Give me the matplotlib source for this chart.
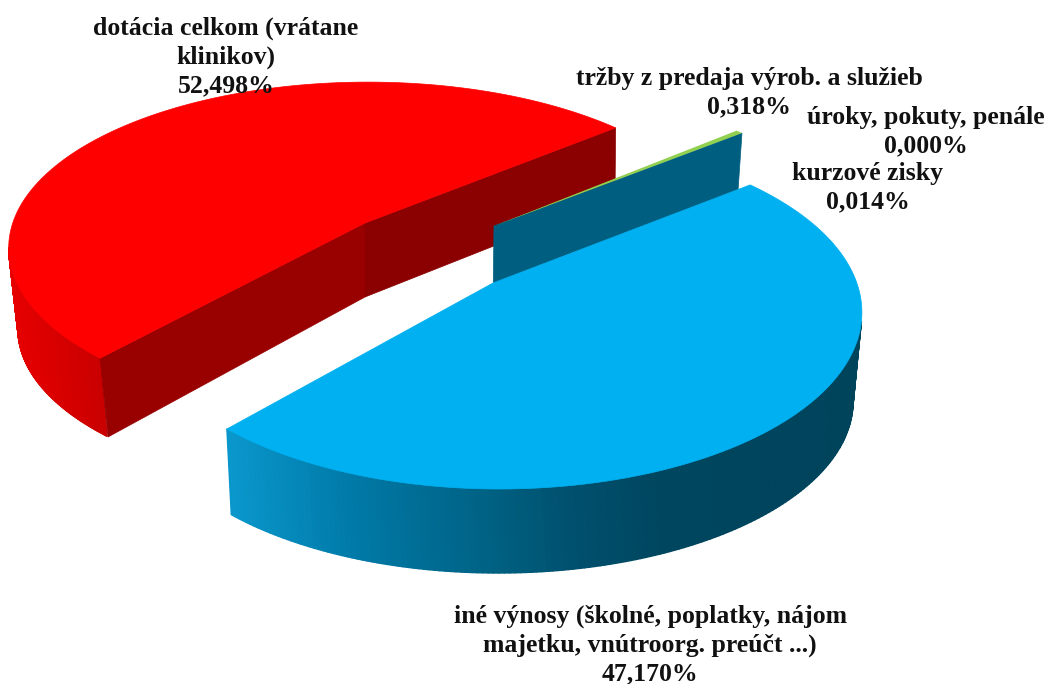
import numpy as np
import matplotlib.pyplot as plt
from matplotlib.collections import PolyCollection
from matplotlib.colors import to_rgb

names = ["dotácia celkom (vrátane\nklinikov)",
         "iné výnosy (školné, poplatky, nájom\nmajetku, vnútroorg. preúčt ...)",
         "tržby z predaja výrob. a služieb",
         "kurzové zisky",
         "úroky, pokuty, penále"]
shares = [52.498, 47.170, 0.318, 0.014, 0.000]
colors = ["#ff0000", "#00b0f0", "#92d050", "#92d050", "#92d050"]
label_pos = [(226, 57), (650, 645), (749, 93), (868, 188), (926, 132)]

RED, BLUE = 0, 1


def arc(c, a, b, t0, t1, n=160):
    t = np.radians(np.linspace(t0, t1, n))
    return np.c_[c[0] + a * np.cos(t), c[1] + b * np.sin(t)]


def sweep(share, stretch=1.0):
    return share * 3.6 * stretch


def side(ax, top, bottom, x_stops, col_stops):
    # shaded rim, one thin quad per step so the colour follows x
    polys = []
    cols = []
    rgb = np.array([to_rgb(c) for c in col_stops])
    for i in range(len(top) - 1):
        polys.append([top[i], top[i + 1], bottom[i + 1], bottom[i]])
        xm = (top[i][0] + bottom[i][0]) / 2
        cols.append([np.interp(xm, x_stops, rgb[:, k]) for k in range(3)])
    ax.fill(*np.vstack([top, bottom[::-1]]).T, color=col_stops[-1], lw=0)
    ax.add_collection(PolyCollection(polys, facecolors=cols, edgecolors=cols, linewidths=1.0))


fig = plt.figure(figsize=(10.48, 6.84), dpi=100)
ax = fig.add_axes([0, 0, 1, 1])
ax.set_xlim(0, 1048)
ax.set_ylim(684, 0)
ax.axis("off")

# red slice
rc, ra, rb = (367.9, 247.8), 359.2, 165.7
rc2, ra2, rb2 = (368, 329), 350, 161
r_start = -46.4
r_end = r_start - sweep(shares[RED], 0.928)
r_top = arc(rc, ra, rb, r_start, r_end)
r_apex = (365, 223)
r_apex2 = (365, 297)
side(ax, arc(rc, ra, rb, -180, r_end), arc(rc2, ra2, rb2, -180, r_end),
     [10, 60, 108], ["#e80000", "#d80000", "#c80000"])
ax.fill([r_top[-1][0], r_apex[0], r_apex2[0], 108], [r_top[-1][1], r_apex[1], r_apex2[1], 437], color="#990000", lw=0.5)
ax.fill([r_top[0][0], r_apex[0], r_apex2[0], 615], [r_top[0][1], r_apex[1], r_apex2[1], 198], color="#8b0000", lw=0.5)
ax.fill(*np.vstack([r_top, r_apex]).T, color=colors[RED], lw=0.5)

# thin slices behind the blue one
sc, sa, sb = (491, 260.5), 362.6, 176.6
s_apex = (494, 226)
s_start = -46.2
for i in range(2, 5):
    s_end = s_start - sweep(shares[i])
    s_arc = arc(sc, sa, sb, s_start, s_end, 5)
    if i == 2:
        ax.fill([s_apex[0], s_arc[0][0], 736.5, 493], [s_apex[1], s_arc[0][1], 213, 306], color="#005f80", lw=0.5)
    if shares[i] > 0.1:
        ax.fill(*np.vstack([s_arc, s_apex]).T, color=colors[i], lw=0)
    s_start = s_end

# blue slice
bc, ba, bb = (499.3, 312.4), 362.6, 176.6
bc2, ba2, bb2 = (498, 401.4), 355, 171.6
b_start = 138.7
b_end = b_start - sweep(shares[BLUE], 1.089)
b_apex = (493, 283)
side(ax, arc(bc, ba, bb, b_start, 3), arc(bc2, ba2, bb2, b_start, 0),
     [232, 350, 500, 570, 660, 860],
     ["#0a97cc", "#007aa8", "#005f80", "#00506e", "#00465f", "#00445c"])
ax.fill(*np.vstack([arc(bc, ba, bb, b_start, b_end), b_apex]).T, color=colors[BLUE], lw=0.5)

# labels
for name, share, pos in zip(names, shares, label_pos):
    txt = name + "\n" + f"{share:.3f}".replace(".", ",") + "%"
    ax.text(pos[0], pos[1], txt, ha="center", va="center", fontsize=18.5, fontweight="bold",
            family="Liberation Serif", color="#111111", linespacing=1.3)

fig.savefig("out.png", dpi=100)
